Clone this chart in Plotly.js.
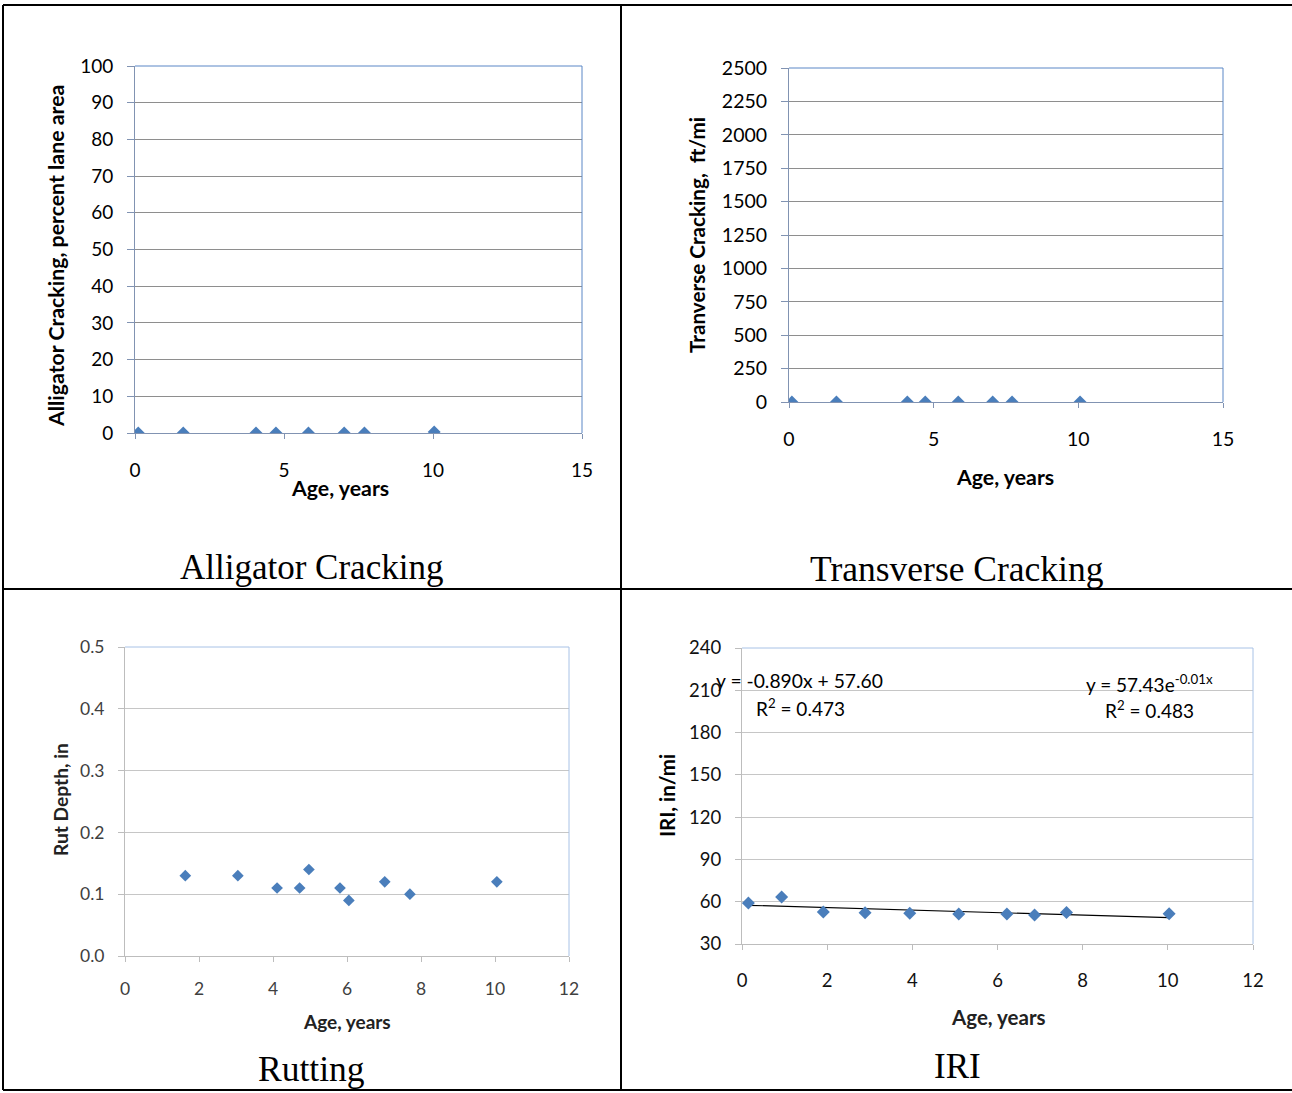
<!DOCTYPE html>
<html>
<head>
<meta charset="utf-8">
<script src="https://cdn.plot.ly/plotly-3.0.1.min.js"></script>
<style>html,body{margin:0;padding:0;background:#fff;} #chart{width:1292px;height:1093px;}</style>
</head>
<body>
<div id="chart"></div>
<script>
// ---- Data ----
var alligatorAge = [0.11, 1.62, 4.06, 4.73, 5.82, 7.02, 7.70, 10.04];
var alligatorCracking = [0, 0, 0, 0, 0, 0, 0, 0.3];

var transverseAge = [0.10, 1.64, 4.09, 4.71, 5.85, 7.04, 7.71, 10.06];
var transverseCracking = [0, 0, 0, 0, 0, 0, 0, 0];

var rutAge = [1.63, 3.05, 4.11, 4.72, 4.97, 5.81, 6.05, 7.02, 7.70, 10.05];
var rutDepth = [0.13, 0.13, 0.11, 0.11, 0.14, 0.11, 0.09, 0.12, 0.10, 0.12];

var iriAge = [0.15, 0.93, 1.91, 2.89, 3.94, 5.09, 6.22, 6.87, 7.62, 10.03];
var iriValue = [59.0, 63.4, 52.7, 52.2, 51.9, 51.2, 51.2, 50.5, 52.4, 51.5];

var linSlope = -0.890, linIntercept = 57.60;

var panelTitles = ["Alligator Cracking", "Transverse Cracking", "Rutting", "IRI"];
var yTitles = ["Alligator Cracking, percent lane area", "Tranverse Cracking,  ft/mi", "Rut Depth, in", "IRI, in/mi"];
var xTitle = "Age, years";
var eqLinear = "y = -0.890x + 57.60";
var r2Linear = "R<sup>2</sup> = 0.473";
var eqExp = "y = 57.43e<sup>-0.01x</sup>";
var r2Exp = "R<sup>2</sup> = 0.483";

// ---- helpers ----
var W = 1292, H = 1093;
function px(x){ return x / W; }
function py(y){ return 1 - y / H; }

var markerColor = '#4A7EBB';
var font = 'Lato, "Open Sans", sans-serif';

var trendX = [Math.min.apply(null, iriAge), Math.max.apply(null, iriAge)];
var trendY = trendX.map(function(x){ return linSlope * x + linIntercept; });

var traces = [
  {x: alligatorAge, y: alligatorCracking, xaxis:'x', yaxis:'y', mode:'markers', type:'scatter',
   marker:{symbol:'diamond', size:10, color:markerColor}},
  {x: transverseAge, y: transverseCracking, xaxis:'x2', yaxis:'y2', mode:'markers', type:'scatter',
   marker:{symbol:'diamond', size:10, color:markerColor}},
  {x: rutAge, y: rutDepth, xaxis:'x3', yaxis:'y3', mode:'markers', type:'scatter',
   marker:{symbol:'diamond', size:9, color:markerColor}},
  {x: trendX, y: trendY, xaxis:'x4', yaxis:'y4', mode:'lines', type:'scatter',
   line:{color:'#000', width:1.2}},
  {x: iriAge, y: iriValue, xaxis:'x4', yaxis:'y4', mode:'markers', type:'scatter',
   marker:{symbol:'diamond', size:10, color:markerColor}}
];

function axTop(domain, range, dtick, anchor, opts){
  var a = {
    domain: domain, range: range, dtick: dtick, tick0: 0, anchor: anchor,
    showgrid: false, zeroline: false, showline: true, linecolor: opts.line, linewidth: 1,
    ticks: 'outside', ticklen: opts.ticklen, tickcolor: opts.line, tickwidth: 1,
    tickfont: {family: font, size: opts.fs, color: opts.fc},
    ticklabelstandoff: opts.standoff, fixedrange: true
  };
  if (opts.grid) { a.showgrid = true; a.gridcolor = opts.grid; a.gridwidth = 1; }
  if (opts.fmt) a.tickformat = opts.fmt;
  return a;
}

var topLine = '#8193B2', topGrid = '#8E8E8E';
var botLine = '#BDBDBD', botGrid = '#C6C6C6';

var layout = {
  width: W, height: H, margin: {l:0, r:0, t:0, b:0},
  paper_bgcolor: '#fff', plot_bgcolor: '#fff', showlegend: false,
  xaxis: axTop([px(135), px(582)], [0, 15], 5, 'y', {line: topLine, ticklen: 5, fs: 19, fc:'#000', standoff: 15}),
  yaxis: axTop([py(433), py(66)], [0, 100], 10, 'x', {line: topLine, ticklen: 7, fs: 19, fc:'#000', standoff: 10, grid: topGrid}),
  xaxis2: axTop([px(789), px(1223)], [0, 15], 5, 'y2', {line: topLine, ticklen: 5, fs: 19.5, fc:'#000', standoff: 15}),
  yaxis2: axTop([py(402), py(68)], [0, 2500], 250, 'x2', {line: topLine, ticklen: 7, fs: 19.5, fc:'#000', standoff: 10, grid: topGrid}),
  xaxis3: axTop([px(125), px(569)], [0, 12], 2, 'y3', {line: botLine, ticklen: 5, fs: 17.5, fc:'#404040', standoff: 12}),
  yaxis3: axTop([py(956), py(647)], [0, 0.5], 0.1, 'x3', {line: botLine, ticklen: 6, fs: 17.5, fc:'#404040', standoff: 10, grid: botGrid, fmt: '.1f'}),
  xaxis4: axTop([px(742), px(1253)], [0, 12], 2, 'y4', {line: botLine, ticklen: 5, fs: 18.5, fc:'#111', standoff: 15}),
  yaxis4: axTop([py(944), py(648)], [30, 240], 30, 'x4', {line: botLine, ticklen: 6, fs: 18.5, fc:'#111', standoff: 10, grid: botGrid}),
  shapes: [],
  annotations: []
};

// plot frames (top & right edges)
var frames = [['x','y','#5B87C6'],['x2','y2','#5B87C6'],['x3','y3','#A8C2E6'],['x4','y4','#A8C2E6']];
frames.forEach(function(f){
  layout.shapes.push({type:'line', xref:f[0]+' domain', yref:f[1]+' domain', x0:0, x1:1, y0:1, y1:1, line:{color:f[2], width:1}});
  layout.shapes.push({type:'line', xref:f[0]+' domain', yref:f[1]+' domain', x0:1, x1:1, y0:0, y1:1, line:{color:f[2], width:1}});
});

// table borders
var bl = {color:'#000', width:2};
layout.shapes.push({type:'line', xref:'paper', yref:'paper', x0:px(3), x1:1, y0:py(5), y1:py(5), line:bl});
layout.shapes.push({type:'line', xref:'paper', yref:'paper', x0:px(3), x1:1, y0:py(589), y1:py(589), line:bl});
layout.shapes.push({type:'line', xref:'paper', yref:'paper', x0:px(3), x1:1, y0:py(1090), y1:py(1090), line:bl});
layout.shapes.push({type:'line', xref:'paper', yref:'paper', x0:px(3), x1:px(3), y0:py(5), y1:py(1090), line:bl});
layout.shapes.push({type:'line', xref:'paper', yref:'paper', x0:px(621), x1:px(621), y0:py(5), y1:py(1090), line:bl});

function ann(text, x, y, size, opts){
  opts = opts || {};
  layout.annotations.push({
    text: text, xref:'paper', yref:'paper', x: px(x), y: py(y),
    xanchor: opts.xa || 'center', yanchor: opts.ya || 'middle', showarrow:false,
    textangle: opts.angle || 0,
    font: {family: opts.family || font, size: size, color: opts.color || '#000'}
  });
}
var bold = function(t){ return '<b>' + t + '</b>'; };

// axis titles
ann(bold(yTitles[0]), 56, 256, 21.3, {angle:-90});
ann(bold(xTitle), 340, 488, 21.3);
ann(bold(yTitles[1]), 697, 235, 20.7, {angle:-90});
ann(bold(xTitle), 1005, 477, 21.3);
ann(bold(yTitles[2]), 60, 800, 19.2, {angle:-90, color:'#222'});
ann(bold(xTitle), 347, 1022, 19, {color:'#222'});
ann(bold(yTitles[3]), 667, 796, 20.5, {angle:-90});
ann(bold(xTitle), 998, 1017, 20.5, {color:'#222'});

// panel captions
var serif = '"Liberation Serif", "DejaVu Serif", serif';
ann(panelTitles[0], 311, 567, 35, {family: serif});
ann(panelTitles[1], 957, 569, 35.5, {family: serif});
ann(panelTitles[2], 311, 1069, 35.5, {family: serif});
ann(panelTitles[3], 957, 1066, 35, {family: serif});

// trendline equations
ann(eqLinear, 714, 680, 19.3, {xa:'left'});
ann(r2Linear, 754, 707, 19, {xa:'left'});
ann(eqExp, 1084, 683, 19, {xa:'left'});
ann(r2Exp, 1103, 709, 19, {xa:'left'});

Plotly.newPlot('chart', traces, layout, {displayModeBar:false, staticPlot:true});
</script>
</body>
</html>
